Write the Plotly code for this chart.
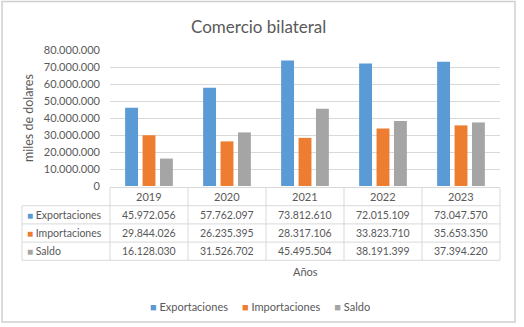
import plotly.graph_objects as go

years = ["2019", "2020", "2021", "2022", "2023"]
exportaciones = [45972056, 57762097, 73812610, 72015109, 73047570]
importaciones = [29844026, 26235395, 28317106, 33823710, 35653350]
saldo = [16128030, 31526702, 45495504, 38191399, 37394220]
series_names = ["Exportaciones", "Importaciones", "Saldo"]
colors = ["#5B9BD5", "#ED7D31", "#A5A5A5"]
y_ticks = [0, 10000000, 20000000, 30000000, 40000000, 50000000, 60000000, 70000000, 80000000]

W, H = 524, 327
L, R, T, B = 110, 24, 50, 141
PW, PH = W - L - R, H - T - B
FONT = "Lato"
TXT = "#595959"
GRID = "#D9D9D9"


def px(xp):
    return (xp - L) / PW


def py(yp):
    return (H - B - yp) / PH


def fmt(v):
    return f"{v:,}".replace(",", ".")


def sq(c, s):
    return f"<span style='color:{c};font-size:{s}px'>■</span>"


fig = go.Figure()
all_series = [exportaciones, importaciones, saldo]
for name, vals, c in zip(series_names, all_series, colors):
    fig.add_trace(go.Bar(x=years, y=vals, name=name, marker=dict(color=c, line=dict(width=0)),
                         showlegend=False))

shapes = []
annotations = []

row_top = 187.5
row_h = 18.2
n_rows = 4
col_w = PW / len(years)
label_left = 22

for i in range(n_rows + 1):
    yy = row_top + i * row_h
    x0 = L if i == 0 else label_left
    shapes.append(dict(type="line", xref="paper", yref="paper", x0=px(x0), x1=px(L + PW),
                       y0=py(yy), y1=py(yy), line=dict(color=GRID, width=1)))
for j in range(len(years) + 1):
    xx = L + j * col_w
    shapes.append(dict(type="line", xref="paper", yref="paper", x0=px(xx), x1=px(xx),
                       y0=py(row_top), y1=py(row_top + n_rows * row_h), line=dict(color=GRID, width=1)))
shapes.append(dict(type="line", xref="paper", yref="paper", x0=px(label_left), x1=px(label_left),
                   y0=py(row_top + row_h), y1=py(row_top + n_rows * row_h), line=dict(color=GRID, width=1)))

TS = 10.5
for j, yr in enumerate(years):
    annotations.append(dict(x=j, xref="x", y=py(row_top + row_h / 2), yref="paper", text=yr,
                            showarrow=False, font=dict(family=FONT, size=11, color=TXT),
                            xanchor="center", yanchor="middle"))
for i, (name, vals, c) in enumerate(zip(series_names, all_series, colors)):
    yc = py(row_top + (i + 1.5) * row_h)
    annotations.append(dict(x=px(label_left + 3), xref="paper", y=yc, yref="paper",
                            text=f"{sq(c, 10)} {name}",
                            showarrow=False, font=dict(family=FONT, size=TS, color=TXT),
                            xanchor="left", yanchor="middle"))
    for j, v in enumerate(vals):
        annotations.append(dict(x=j, xref="x", y=yc, yref="paper", text=fmt(v),
                                showarrow=False, font=dict(family=FONT, size=TS, color=TXT),
                                xanchor="center", yanchor="middle"))

annotations.append(dict(x=px(L + PW / 2), xref="paper", y=py(271), yref="paper", text="Años",
                        showarrow=False, font=dict(family=FONT, size=11, color=TXT),
                        xanchor="center", yanchor="middle"))
annotations.append(dict(x=px(28), xref="paper", y=py(T + PH / 2), yref="paper", text="miles de dolares",
                        showarrow=False, textangle=-90, font=dict(family=FONT, size=12.5, color=TXT),
                        xanchor="center", yanchor="middle"))

leg = "     ".join(f"{sq(c, 11)} {n}" for n, c in zip(series_names, colors))
annotations.append(dict(x=px(260), xref="paper", y=py(306.5), yref="paper", text=leg,
                        showarrow=False, font=dict(family=FONT, size=11, color=TXT),
                        xanchor="center", yanchor="middle"))

shapes.append(dict(type="rect", xref="paper", yref="paper", x0=px(2), x1=px(515), y0=py(322), y1=py(1.5),
                   line=dict(color="#D0D0D0", width=1.5), fillcolor="rgba(0,0,0,0)"))

fig.update_layout(
    width=W, height=H,
    margin=dict(l=L, r=R, t=T, b=B),
    paper_bgcolor="white", plot_bgcolor="white",
    separators=",.",
    barmode="group", bargap=0.33, bargroupgap=0.26,
    title=dict(text="Comercio bilateral", x=258.7 / W, xref="container", xanchor="center",
               y=1 - 27 / H, yref="container", yanchor="middle",
               font=dict(family=FONT, size=17, color=TXT)),
    xaxis=dict(type="category", range=[-0.5, len(years) - 0.5], showticklabels=False, showgrid=False,
               showline=False, zeroline=False, ticks=""),
    yaxis=dict(range=[0, 80000000], tickvals=y_ticks, tickformat=",d", showgrid=True, gridcolor=GRID,
               gridwidth=1, zeroline=False, showline=False, ticks="", ticklabelstandoff=9,
               tickfont=dict(family=FONT, size=11, color=TXT)),
    shapes=shapes, annotations=annotations, showlegend=False,
)

fig.write_html("out.html")
